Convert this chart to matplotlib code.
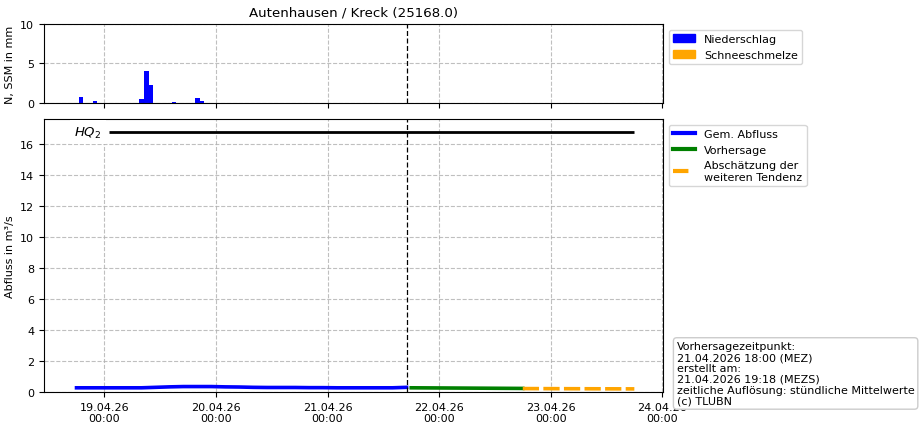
import matplotlib
matplotlib.use("Agg")
import matplotlib.pyplot as plt
import matplotlib.dates as mdates
from matplotlib.patches import Patch
from matplotlib.lines import Line2D
import pandas as pd

plt.rcParams['font.family'] = ['DejaVu Sans']
plt.rcParams['font.size'] = 8

title = "Autenhausen / Kreck (25168.0)"

# precipitation (hourly, mm)
precip_times = ["2026-04-18 19:00", "2026-04-18 22:00", "2026-04-19 08:00", "2026-04-19 09:00",
                "2026-04-19 10:00", "2026-04-19 15:00", "2026-04-19 20:00", "2026-04-19 21:00"]
precip_vals = [0.75, 0.25, 0.5, 4.0, 2.3, 0.1, 0.65, 0.25]
snow_times = []
snow_vals = []

# observed discharge (m3/s)
obs_times = ["2026-04-18 18:00", "2026-04-18 20:00", "2026-04-18 23:00", "2026-04-19 02:00",
             "2026-04-19 05:00", "2026-04-19 08:00", "2026-04-19 11:00", "2026-04-19 14:00",
             "2026-04-19 17:00", "2026-04-19 20:00", "2026-04-19 23:00", "2026-04-20 02:00",
             "2026-04-20 05:00", "2026-04-20 08:00", "2026-04-20 11:00", "2026-04-20 14:00",
             "2026-04-20 17:00", "2026-04-20 20:00", "2026-04-20 23:00", "2026-04-21 02:00",
             "2026-04-21 05:00", "2026-04-21 08:00", "2026-04-21 11:00", "2026-04-21 14:00",
             "2026-04-21 17:00"]
obs_vals = [0.27, 0.27, 0.27, 0.27, 0.27, 0.27, 0.30, 0.33, 0.35, 0.35, 0.35, 0.33,
            0.32, 0.30, 0.29, 0.29, 0.29, 0.28, 0.28, 0.27, 0.27, 0.27, 0.27, 0.27, 0.30]

# forecast
fc_times = ["2026-04-21 18:00", "2026-04-22 00:00", "2026-04-22 06:00", "2026-04-22 12:00",
            "2026-04-22 18:00"]
fc_vals = [0.27, 0.26, 0.25, 0.24, 0.23]

# tendency
tend_times = ["2026-04-22 18:00", "2026-04-23 00:00", "2026-04-23 06:00", "2026-04-23 12:00",
              "2026-04-23 18:00"]
tend_vals = [0.22, 0.215, 0.21, 0.205, 0.20]

hq2 = 16.77
hq2_start = "2026-04-19 01:00"
hq2_end = "2026-04-23 18:00"
hq2_label_time = "2026-04-18 17:30"
forecast_time = "2026-04-21 17:00"
xlim = ("2026-04-18 11:00", "2026-04-24 00:10")

info_text = ("Vorhersagezeitpunkt:\n21.04.2026 18:00 (MEZ)\nerstellt am:\n"
             "21.04.2026 19:18 (MEZS)\nzeitliche Auflösung: stündliche Mittelwerte\n(c) TLUBN")

T = lambda lst: pd.to_datetime(lst)

fig = plt.figure(figsize=(9.22, 4.31), dpi=100)
ax1 = fig.add_axes([0.0477, 0.7587, 0.6714, 0.1833])
ax2 = fig.add_axes([0.0477, 0.0882, 0.6714, 0.6334], sharex=ax1)

grid_kw = dict(color='#b0b0b0', linestyle='--', linewidth=0.8, alpha=0.8)

# top panel
ax1.bar(T(precip_times), precip_vals, width=1/24, color='blue', align='center')
if snow_vals:
    ax1.bar(T(snow_times), snow_vals, width=1/24, color='orange', bottom=0)
ax1.set_ylim(0, 10)
ax1.set_yticks([0, 5, 10])
ax1.set_ylabel("N, SSM in mm")
ax1.grid(True, **grid_kw)
ax1.axvline(pd.Timestamp(forecast_time), color='black', linestyle=(0, (4, 2)), linewidth=0.9)
ax1.tick_params(labelbottom=False)
ax1.set_title(title, fontsize=9.6)
ax1.legend(handles=[Patch(color='blue', label='Niederschlag'),
                    Patch(color='orange', label='Schneeschmelze')],
           loc='upper left', bbox_to_anchor=(1.0, 1.0))

# bottom panel
ax2.plot(T(obs_times), obs_vals, color='blue', linewidth=2.6)
ax2.plot(T(fc_times), fc_vals, color='green', linewidth=2.6)
ax2.plot(T(tend_times), tend_vals, color='orange', linewidth=2.6, linestyle=(0, (4.5, 1.2)))
ax2.hlines(hq2, pd.Timestamp(hq2_start), pd.Timestamp(hq2_end), color='black', linewidth=2)
ax2.text(pd.Timestamp(hq2_label_time), hq2, r"$HQ_2$", fontsize=9.5, ha='left', va='center',
         bbox=dict(facecolor='white', edgecolor='none', pad=3))
ax2.axvline(pd.Timestamp(forecast_time), color='black', linestyle=(0, (4, 2)), linewidth=0.9)
ax2.set_ylim(0, hq2 * 1.05)
ax2.set_yticks(range(0, 17, 2))
ax2.set_ylabel("Abfluss in m³/s")
ax2.grid(True, **grid_kw)
ax2.set_xlim(pd.Timestamp(xlim[0]), pd.Timestamp(xlim[1]))
ax2.xaxis.set_major_locator(mdates.DayLocator())
ax2.xaxis.set_major_formatter(mdates.DateFormatter('%d.%m.%y\n%H:%M'))
for lbl in ax2.get_xticklabels():
    lbl.set_ha('center')
ax2.legend(handles=[Line2D([], [], color='blue', lw=3, label='Gem. Abfluss'),
                    Line2D([], [], color='green', lw=3, label='Vorhersage'),
                    Line2D([], [], color='orange', lw=3, ls='--',
                           label='Abschätzung der\nweiteren Tendenz')],
           loc='upper left', bbox_to_anchor=(1.0, 1.0))

fig.text(0.734, 0.056, info_text, ha='left', va='bottom', linespacing=1.12,
         bbox=dict(boxstyle='round,pad=0.3', facecolor='white', edgecolor='0.8'))

fig.savefig("out.png", dpi=100)
